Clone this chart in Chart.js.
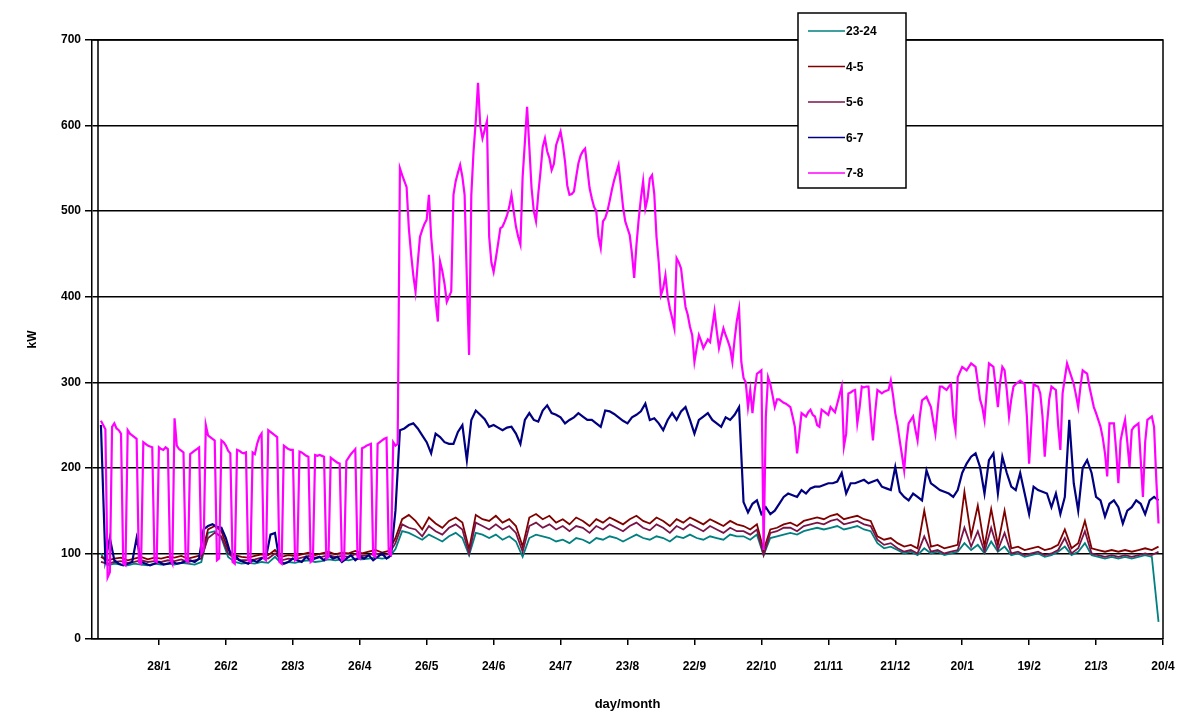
<!DOCTYPE html>
<html>
<head>
<meta charset="utf-8">
<script src="https://cdn.jsdelivr.net/npm/chart.js@4.4.1/dist/chart.umd.min.js"></script>
<style>
  html, body { margin: 0; padding: 0; background: #ffffff; }
  #wrap { width: 1191px; height: 713px; }
</style>
</head>
<body>
<div id="wrap"><canvas id="chart" width="1191" height="713"></canvas></div>
<script>
// Day-of-record positions of the axis ticks and their day/month labels
const tickDays = [30, 60, 90, 120, 150, 180, 210, 240, 270, 300, 330, 360, 390, 420, 450, 480];
const tickLabels = ['28/1', '26/2', '28/3', '26/4', '26/5', '24/6', '24/7', '23/8', '22/9',
                    '22/10', '21/11', '21/12', '20/1', '19/2', '21/3', '20/4'];

// Hour bands shown in the legend
const seriesNames = ['23-24', '4-5', '5-6', '6-7', '7-8'];

// 7-8 h load (kW), one reading per day from day 4
const load78 = [
  255, 250, 245,
  72, 78, 248, 252, 246, 244, 240,
  88, 86, 244, 240, 238, 236, 234,
  90, 88, 230, 228, 226, 225, 224,
  92, 90, 224, 222, 221, 224, 222,
  94, 88, 258, 226, 222, 220, 218,
  92, 90, 216, 218, 220, 222, 224,
  100, 104, 250, 238, 236, 234, 232,
  92, 94, 232, 230, 226, 220, 217,
  90, 88, 221, 220, 218, 217, 218,
  92, 90, 218, 216, 228, 236, 240,
  94, 92, 244, 242, 240, 238, 236,
  90, 88, 226, 224, 222, 221, 221,
  92, 94, 219, 218, 216, 214, 213,
  90, 92, 215, 214, 215, 214, 213,
  94, 96, 212, 210, 208, 206, 205,
  92, 94, 208, 212, 216, 219, 222,
  96, 94, 223, 224, 226, 227, 228,
  98, 96, 228, 230, 232, 234, 235,
  100, 98, 230, 226, 228,
  550, 542, 535, 528, 480, 450, 425, 406, 440, 470,
  478, 485, 490, 519, 470, 440, 395, 371, 441, 430,
  415, 394, 400, 406, 519, 535, 545, 554, 540, 519,
  420, 332, 519, 570, 605, 650, 600, 585, 595, 605,
  470, 440, 429, 445, 462, 480, 482, 488, 495, 505,
  519, 500, 482, 470, 461, 540, 580, 622, 575, 527,
  500, 488, 520, 546, 575, 585, 570, 562, 548, 555,
  577, 585, 593, 578, 558, 530, 519, 520, 523, 540,
  556, 565, 570, 573, 550, 527, 515, 505, 500, 470,
  457, 488, 492, 500, 512, 525, 536, 545, 554, 530,
  505, 488, 480, 472, 450, 422, 460, 490, 515, 535,
  503, 515, 538, 542, 520, 470, 440, 402, 410, 425,
  400, 386, 375, 363, 445, 440, 433, 410, 388, 379,
  365, 355, 324, 340, 355, 348, 340, 345, 350, 347,
  365, 383, 360, 340, 352, 363, 355, 348, 340, 324,
  350, 372, 386, 324, 305,
  300, 271, 291, 264, 290, 310, 312, 314, 104, 260,
  306, 298, 285, 271, 280, 280, 278, 276, 275, 273,
  271, 260, 248, 217, 240, 264, 262, 260, 265, 268,
  262, 260, 250, 248, 268, 266, 264, 262, 271, 268,
  265, 275, 285, 295, 225, 240, 287, 288, 290, 291,
  252, 270, 295, 294, 295, 295, 260, 232, 265, 291,
  289, 287, 289, 290, 291, 302, 285, 264, 250, 232,
  215, 197, 230, 252, 256, 260, 245, 232, 260, 279,
  281, 283, 277, 271, 255, 240, 268, 295, 295, 293,
  291, 295, 298, 260, 244, 306, 312, 318, 316, 314,
  318, 322, 320, 318, 300, 280, 271, 256, 290, 322,
  320, 318, 295, 271, 300, 318, 314, 290, 260, 280,
  295, 298, 300, 302, 300, 298, 260, 205, 250, 298,
  296, 295, 287, 260, 213, 250, 280, 295, 293, 291,
  250, 221, 287, 305, 322, 314, 306, 298, 285, 271,
  295, 314, 312, 310, 295, 283, 271, 264, 256, 248,
  235, 217, 190, 252, 252, 252, 220, 182, 232, 245,
  256, 230, 201, 244, 248, 250, 252, 210, 166, 230,
  256, 258, 260, 248, 186, 135
];

// 6-7 h load (kW), every second day from day 4
const load67 = [
  250, 92, 118, 92, 88, 86, 88, 90, 118, 90,
  88, 86, 88, 90, 87, 88, 90, 88, 89, 91,
  92, 90, 94, 128, 132, 134, 131, 130, 118, 100,
  98, 92, 90, 88, 92, 90, 94, 96, 122, 124,
  92, 88, 90, 94, 92, 90, 96, 92, 94, 96,
  92, 98, 94, 96, 90, 94, 98, 92, 96, 94,
  98, 92, 96, 100, 94, 98, 150,
  244, 246, 250, 252, 246, 238, 230, 217, 240, 236,
  230, 228, 228, 242, 250, 209, 256, 267, 262, 257,
  248, 250, 247, 244, 247, 248, 240, 228, 256, 264,
  256, 254, 267, 273, 264, 262, 259, 252, 256, 259,
  264, 260, 256, 256, 252, 248, 267, 266, 263, 259,
  255, 252, 259, 262, 266, 275, 256, 258, 252, 244,
  256, 264, 256, 266, 271, 256, 240, 256, 260, 264,
  256, 252, 248, 259, 256, 262, 271,
  160, 148, 158, 162, 146, 154, 146, 150, 158, 166,
  170, 168, 166, 174, 170, 176, 178, 178, 180, 182,
  182, 184, 194, 170, 182, 182, 184, 186, 182, 184,
  186, 178, 176, 174, 201, 172, 166, 162, 170, 166,
  162, 197, 182, 178, 174, 172, 170, 166, 174, 194,
  205, 213, 217, 201, 170, 209, 217, 170, 213, 194,
  178, 174, 194, 170, 146, 178, 174, 172, 170, 154,
  170, 146, 166, 256, 182, 150, 200, 209, 194, 166,
  162, 143, 158, 162, 154, 135, 150, 154, 162, 158,
  146, 162, 166, 162
];

// 5-6 h load (kW), every third day from day 4
const load56 = [
  90, 88, 90, 91, 89, 90, 92, 90, 91, 90,
  92, 91, 93, 90, 92, 94, 118, 124, 120, 100,
  94, 92, 92, 93, 95, 94, 100, 92, 94, 93,
  95, 97, 95, 96, 98, 96, 97, 96, 99, 97,
  98, 100, 98, 99, 112,
  134, 130, 128, 120, 132, 126, 122, 130, 134, 128,
  100, 136, 132, 128, 134, 128, 132, 124, 102, 132,
  136, 130, 134, 128, 132, 126, 132, 130, 124, 132,
  128, 134, 130, 126, 132, 136, 130, 127, 134, 130,
  124, 132, 128, 134, 130, 126, 132, 128, 124, 130,
  126,
  126, 122, 128, 98, 124, 126, 130, 130, 126, 132,
  134, 136, 134, 138, 140, 134, 136, 138, 134, 132,
  116, 110, 112, 106, 102, 104, 100, 120, 102, 104,
  100, 102, 104, 130, 108, 126, 102, 130, 104, 124,
  100, 102, 98, 100, 102, 98, 100, 104, 118, 100,
  106, 126, 100, 98, 96, 98, 96, 98, 96, 98,
  100, 98, 102
];

// 4-5 h load (kW), every third day from day 4
const load45 = [
  96, 92, 94, 95, 92, 94, 96, 93, 95, 94,
  96, 95, 97, 94, 96, 98, 128, 132, 126, 104,
  98, 96, 95, 97, 99, 98, 104, 96, 98, 97,
  99, 101, 98, 100, 102, 99, 101, 100, 103, 100,
  102, 104, 101, 103, 118,
  140, 145, 138, 128, 142, 135, 130, 138, 142, 136,
  105, 145, 140, 138, 144, 136, 140, 132, 108, 142,
  146, 140, 144, 136, 140, 134, 142, 138, 132, 140,
  136, 142, 138, 134, 140, 144, 138, 135, 142, 138,
  132, 140, 136, 142, 138, 134, 140, 136, 132, 138,
  134,
  132, 128, 134, 104, 128, 130, 134, 136, 132, 138,
  140, 142, 140, 144, 146, 140, 142, 144, 140, 138,
  120, 116, 118, 112, 108, 110, 106, 150, 108, 110,
  106, 108, 110, 172, 120, 156, 108, 152, 110, 150,
  106, 108, 104, 106, 108, 104, 106, 110, 128, 106,
  112, 138, 106, 104, 102, 104, 102, 104, 102, 104,
  106, 104, 108
];

// 23-24 h load (kW), every third day from day 4
const load2324 = [
  100, 86, 88, 87, 86, 88, 87, 86, 88, 87,
  88, 87, 89, 88, 87, 90, 124, 126, 118, 96,
  90, 88, 89, 88, 90, 89, 96, 88, 90, 89,
  91, 92, 90, 91, 93, 92, 93, 92, 94, 93,
  94, 95, 94, 95, 105,
  126, 124, 120, 116, 122, 118, 114, 120, 124, 118,
  98, 124, 122, 118, 122, 116, 120, 114, 96, 118,
  122, 120, 118, 114, 116, 112, 118, 116, 112, 118,
  116, 120, 118, 114, 118, 122, 118, 116, 120, 118,
  114, 120, 118, 122, 118, 116, 120, 118, 116, 122,
  120,
  120, 116, 122, 98, 118, 120, 122, 124, 122, 126,
  128, 130, 128, 130, 132, 128, 130, 132, 128, 126,
  112, 106, 108, 104, 100, 102, 98, 106, 100, 102,
  98, 100, 102, 112, 104, 110, 100, 114, 102, 108,
  98, 100, 96, 98, 100, 96, 98, 102, 108, 98,
  102, 112, 98, 96, 94, 96, 94, 96, 94, 96,
  98, 96, 20
];

const FIRST_DAY = 4;

function toPoints(values, step) {
  return values.map((v, i) => ({ x: FIRST_DAY + i * step, y: v }));
}

const FONT = "'Liberation Sans', Arial, sans-serif";

// Box border, left double rule and the in-chart legend
const framePlugin = {
  id: 'frame',
  afterDatasetsDraw(chart) {
    const { ctx, chartArea: a } = chart;
    ctx.save();
    ctx.strokeStyle = '#000';
    ctx.lineWidth = 1.5;
    ctx.beginPath();
    ctx.moveTo(a.left, a.top);
    ctx.lineTo(a.right, a.top);
    ctx.lineTo(a.right, a.bottom);
    ctx.moveTo(a.left + 6, a.top);
    ctx.lineTo(a.left + 6, a.bottom);
    ctx.stroke();
    ctx.restore();
  },
  afterDraw(chart) {
    const { ctx } = chart;
    const box = { x: 798, y: 13, w: 108, h: 175 };
    ctx.save();
    ctx.fillStyle = '#fff';
    ctx.fillRect(box.x, box.y, box.w, box.h);
    ctx.strokeStyle = '#000';
    ctx.lineWidth = 1.5;
    ctx.strokeRect(box.x, box.y, box.w, box.h);
    ctx.font = 'bold 12px ' + FONT;
    ctx.textBaseline = 'middle';
    ctx.textAlign = 'left';
    chart.data.datasets.forEach((ds, i) => {
      const y = box.y + 18 + i * 35.5;
      ctx.strokeStyle = ds.borderColor;
      ctx.lineWidth = 1.5;
      ctx.beginPath();
      ctx.moveTo(box.x + 10, y);
      ctx.lineTo(box.x + 47, y);
      ctx.stroke();
      ctx.fillStyle = '#000';
      ctx.fillText(ds.label, box.x + 48, y + 1);
    });
    ctx.restore();
  }
};

const colours = ['#008080', '#800000', '#7a1448', '#000080', '#ff00ff'];
const widths = [1.8, 1.8, 1.8, 2.2, 2.2];
const seriesData = [toPoints(load2324, 3), toPoints(load45, 3), toPoints(load56, 3),
                    toPoints(load67, 2), toPoints(load78, 1)];

new Chart(document.getElementById('chart'), {
  type: 'line',
  data: {
    datasets: seriesNames.map((name, i) => ({
      label: name,
      data: seriesData[i],
      borderColor: colours[i],
      backgroundColor: colours[i],
      borderWidth: widths[i],
      pointRadius: 0,
      tension: 0,
      fill: false,
      order: seriesNames.length - i
    }))
  },
  options: {
    responsive: false,
    animation: false,
    devicePixelRatio: 1,
    layout: { padding: { top: 40, right: 28, left: 0, bottom: 0 } },
    plugins: { legend: { display: false }, tooltip: { enabled: false } },
    scales: {
      x: {
        type: 'linear',
        min: 0,
        max: 480,
        afterBuildTicks: (s) => { s.ticks = tickDays.map(v => ({ value: v })); },
        afterFit: (s) => { s.height = 74; },
        ticks: {
          autoSkip: false,
          maxRotation: 0,
          color: '#000',
          padding: 14,
          font: { family: FONT, size: 12, weight: 'bold' },
          callback: (v) => tickLabels[tickDays.indexOf(v)]
        },
        grid: { drawOnChartArea: false, drawTicks: true, tickLength: 6, color: '#000', lineWidth: 1.5 },
        border: { display: true, color: '#000', width: 1.5 },
        title: {
          display: true,
          text: 'day/month',
          color: '#000',
          font: { family: FONT, size: 13, weight: 'bold' },
          padding: { top: 4, bottom: 1 }
        }
      },
      y: {
        min: 0,
        max: 700,
        afterFit: (s) => { s.width = 92; },
        ticks: {
          stepSize: 100,
          color: '#000',
          padding: 4,
          font: { family: FONT, size: 12, weight: 'bold' }
        },
        grid: { color: '#000', lineWidth: 1.5, tickLength: 7, drawTicks: true },
        border: { display: true, color: '#000', width: 1.5 },
        title: {
          display: true,
          text: 'kW',
          color: '#000',
          font: { family: FONT, size: 12, weight: 'bold' },
          padding: { top: 25, bottom: 4 }
        }
      }
    }
  },
  plugins: [framePlugin]
});
</script>
</body>
</html>
